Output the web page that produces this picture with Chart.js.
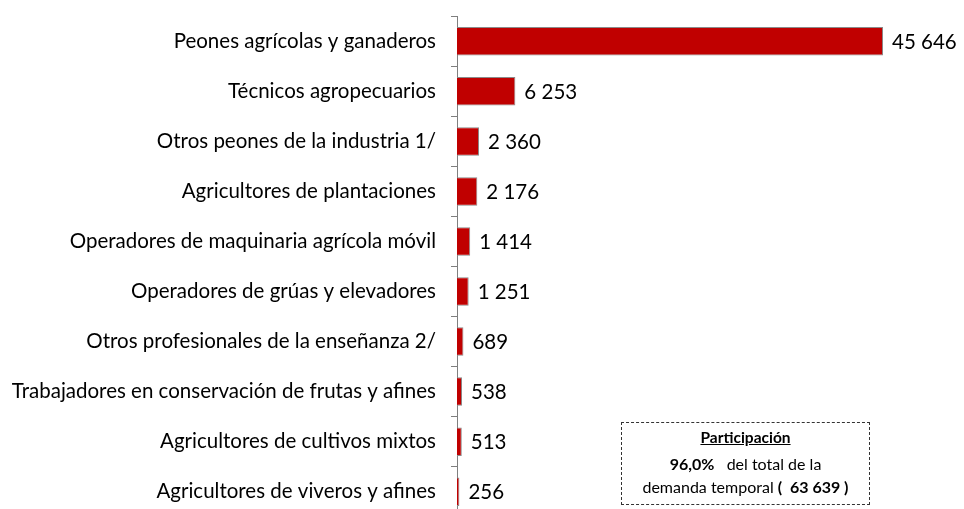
<!DOCTYPE html>
<html>
<head>
<meta charset="utf-8">
<script src="https://cdn.jsdelivr.net/npm/chart.js@4.4.1/dist/chart.umd.min.js"></script>
<style>
  html, body { margin: 0; padding: 0; background: #fff; overflow: hidden; }
  #wrap { position: relative; width: 964px; height: 509px; overflow: hidden; }
  #grafico { position: absolute; left: 0; top: -11px; }
  #nota {
    position: absolute; left: 621px; top: 422px; width: 249px; height: 83px;
    border: 1.5px dashed #333; font-family: Lato, "Open Sans", sans-serif;
    text-align: center; color: #000; box-sizing: border-box;
  }
  #nota .tit { font-weight: bold; text-decoration: underline; font-size: 15.5px; margin-top: 5px; }
  #nota .txt { font-size: 16px; line-height: 23px; margin-top: 6px; }
</style>
</head>
<body>
<div id="wrap">
  <canvas id="grafico" width="964" height="555"></canvas>
  <div id="nota">
    <div class="tit">Participación</div>
    <div class="txt"><b>96,0%</b>&nbsp;&nbsp; del total de la<br>demanda temporal <b>(&nbsp; 63 639 )</b></div>
  </div>
</div>
<script>
// Ocupaciones y número de puestos
var ocupaciones = [
  'Peones agrícolas y ganaderos',
  'Técnicos agropecuarios',
  'Otros peones de la industria 1/',
  'Agricultores de plantaciones',
  'Operadores de maquinaria agrícola móvil',
  'Operadores de grúas y elevadores',
  'Otros profesionales de la enseñanza 2/',
  'Trabajadores en conservación de frutas y afines',
  'Agricultores de cultivos mixtos',
  'Agricultores de viveros y afines'
];
var puestos = [45646, 6253, 2360, 2176, 1414, 1251, 689, 538, 513, 256];

// separador de miles con espacio
function formato(n) {
  return String(n).replace(/\B(?=(\d{3})+(?!\d))/g, ' ');
}

// dibujar los valores al final de cada barra
var etiquetas = {
  id: 'etiquetas',
  afterDatasetsDraw: function(chart) {
    var ctx = chart.ctx;
    var meta = chart.getDatasetMeta(0);
    ctx.save();
    ctx.font = '20.5px Lato, "Open Sans", sans-serif';
    ctx.fillStyle = '#000';
    ctx.textBaseline = 'middle';
    ctx.textAlign = 'left';
    meta.data.forEach(function(bar, i) {
      ctx.fillText(formato(puestos[i]), bar.x + 9, bar.y + 1);
    });
    ctx.restore();
  }
};

var ctx = document.getElementById('grafico').getContext('2d');
new Chart(ctx, {
  type: 'bar',
  data: {
    labels: ocupaciones,
    datasets: [{
      data: puestos,
      backgroundColor: '#C00000',
      borderColor: '#8a8a8a',
      borderWidth: 1,
      barPercentage: 0.57,
      categoryPercentage: 1
    }]
  },
  options: {
    indexAxis: 'y',
    responsive: false,
    animation: false,
    layout: { padding: { top: 7, bottom: 4, left: 0, right: 3 } },
    plugins: { legend: { display: false }, tooltip: { enabled: false } },
    scales: {
      x: { display: false, min: 0, max: 54000 },
      y: {
        afterFit: function(scale) { scale.width = 457; },
        border: { display: true, color: '#7f7f7f', width: 1 },
        grid: { drawOnChartArea: false, drawTicks: true, tickLength: 6, color: '#7f7f7f' },
        ticks: {
          color: '#000',
          padding: 15,
          font: { family: 'Lato, "Open Sans", sans-serif', size: 20.5 }
        }
      }
    }
  },
  plugins: [etiquetas]
});
</script>
</body>
</html>
